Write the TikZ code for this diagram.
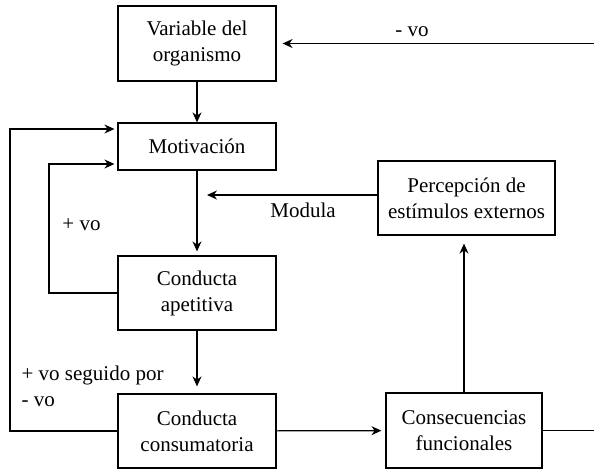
\documentclass[tikz,border=0pt]{standalone}
\usepackage{fontspec}
\setmainfont{Liberation Serif}
\usepackage{tikz}
\usetikzlibrary{positioning,arrows.meta}

\begin{document}
\begin{tikzpicture}[x=0.5pt, y=-0.5pt, line width=0.6pt,
            font=\fontsize{10.5}{13}\selectfont,
            box/.style={draw, rectangle, align=center, inner sep=0pt, minimum width=79pt, minimum height=37pt},
            lbl/.style={inner sep=0pt, align=left},
            arr/.style={-{Stealth[length=5pt, width=4.5pt]}}]
            \useasboundingbox (0,0) rectangle (594,470);

            \node[box, minimum height=37.5pt] (var) at (197, 43.5) {Variable del\\organismo};
            \node[box, minimum height=23.5pt] (mot) at (197, 146.5) {Motivación};
            \node[box] (ape) at (197, 293) {Conducta\\apetitiva};
            \node[box] (cons) at (197, 431) {Conducta\\consumatoria};
            \node[box, minimum width=88.5pt] (per) at (466.5, 198) {Percepción de\\estímulos externos};
            \node[box, minimum width=78pt, minimum height=37.5pt] (csc) at (464, 430.5) {Consecuencias\\funcionales};

            \node[lbl] (negvo) at (412, 32) {- vo};
            \node[lbl] (mod) at (303, 210) {Modula};
            \node[lbl] (posvo) at (81.5, 225) {+ vo};
            \node[lbl, anchor=west] (segvo) at (21, 386) {+ vo seguido por\\- vo};

            \coordinate (outer) at (10, 0);
            \coordinate (inner) at (49, 0);
            \coordinate (rim) at (600, 0);
            \coordinate (modtip) at (207, 195);

            \draw[arr] (var) -- (mot);
            \draw[arr, shorten >=2pt] (mot) -- (ape);
            \draw[arr, shorten >=3.5pt] (ape) -- (cons);
            \draw[arr, shorten >=2pt] (cons) -- (csc);
            \draw[arr, shorten >=4pt] (csc.north) -- (csc.north |- per.south);
            \draw[arr] (per.west |- modtip) -- (modtip);
            \draw[arr, shorten >=1.5pt] (ape.west) -- (ape.west -| inner) |- ([yshift=-8.75pt]mot.west);
            \draw[arr, shorten >=1.5pt] (cons.west) -- (cons.west -| outer) |- ([yshift=8.75pt]mot.west);
            \draw[arr, shorten >=3pt] (csc.east) -- (csc.east -| rim) |- (var.east);

        \end{tikzpicture}
\end{document}
